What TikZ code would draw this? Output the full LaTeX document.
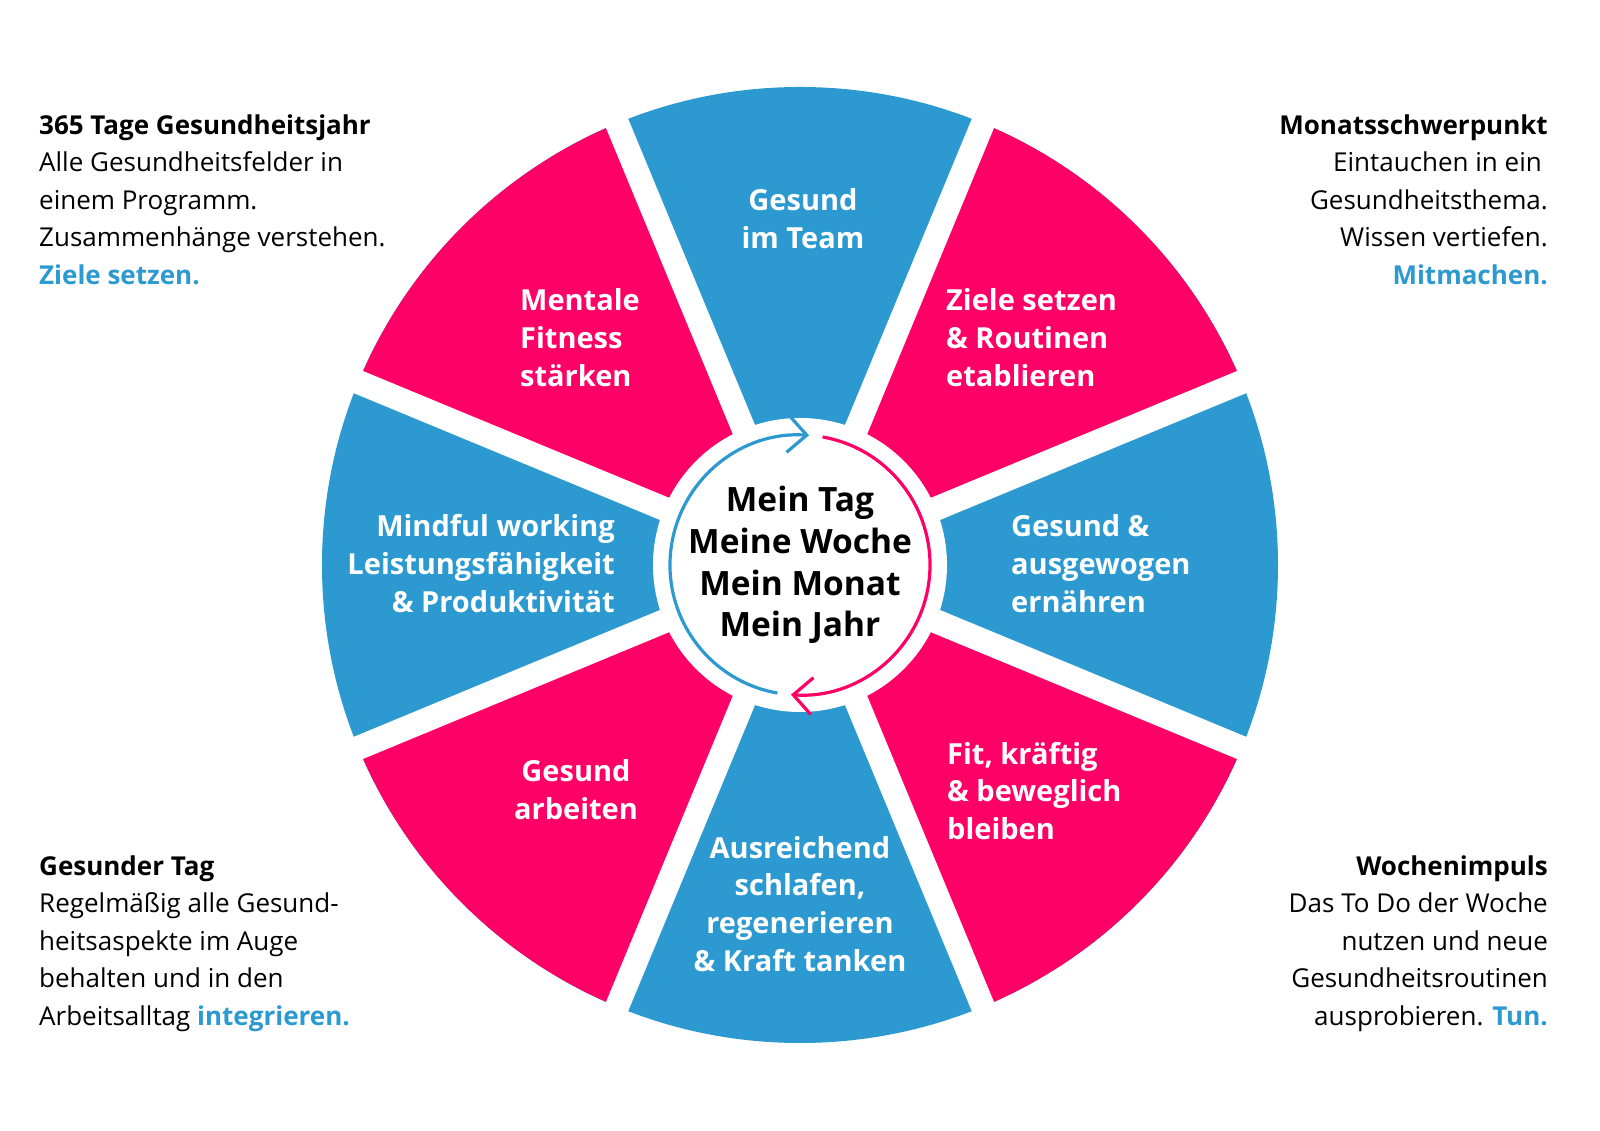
\documentclass[tikz,border=0pt]{standalone}
\usepackage{fontspec}
\setmainfont{Open Sans}
\usetikzlibrary{arrows.meta,calc}
\definecolor{wheelblue}{RGB}{44,154,209}
\definecolor{wheelpink}{RGB}{255,0,102}
\newcommand{\hiword}[1]{\textcolor{wheelblue}{\bfseries #1}}

\begin{document}
\begin{tikzpicture}[x=1pt, y=1pt,
	seg/.style={text=white, inner sep=0pt, font=\fontsize{29}{37.8}\selectfont\bfseries},
	info/.style={inner sep=0pt, font=\fontsize{26}{37.5}\selectfont},
	gap/.style={white, line width=24pt},
	cyc/.style={line width=3.2pt, -{Straight Barb[length=19pt, width=37pt, line width=3.2pt]}}]

    \fill[white] (-800,-566) rectangle (800,565);
    \coordinate (hub) at (0,0);

    % wheel: blue disc, pink sectors, white gaps and centre
    \fill[wheelblue] (hub) circle [radius=478];
    \foreach \a in {45,-45,-135,135}
        \fill[wheelpink] (hub) -- ($(hub)+(\a-22.5:478)$) arc [start angle=\a-22.5, end angle=\a+22.5, radius=478] -- cycle;
    \foreach \a in {22.5,67.5,112.5,157.5}
        \draw[gap] ($(hub)+(\a:480)$) -- ($(hub)+(\a+180:480)$);
    \fill[white] (hub) circle [radius=147];

    \draw[cyc, wheelblue] ($(hub)+(260:130)$) arc [start angle=260, end angle=86, radius=130];
    \draw[cyc, wheelpink] ($(hub)+(80:130)$) arc [start angle=80, end angle=-94, radius=130];

    % base anchor = baseline of the last line
    \node (Hub_Text) at (0,-71.8) [anchor=base, align=center, inner sep=0pt, font=\fontsize{33.5}{41.7}\selectfont\bfseries] {Mein Tag\\Meine Woche\\Mein Monat\\Mein Jahr};

    \node (Team) at (3,316.2) [seg, anchor=base, align=center] {Gesund\\im Team};
    \node (Goals) at (146,178.4) [seg, anchor=base west, align=left] {Ziele setzen\\\& Routinen\\etablieren};
    \node (Food) at (211,-47.6) [seg, anchor=base west, align=left] {Gesund \&\\ausgewogen\\ernähren};
    \node (Fit) at (147,-274.6) [seg, anchor=base west, align=left] {Fit, kräftig\\\& beweglich\\bleiben};
    \node (Sleep) at (0,-406.4) [seg, anchor=base, align=center] {Ausreichend\\schlafen,\\regenerieren\\\& Kraft tanken};
    \node (Work) at (-224,-254.8) [seg, anchor=base, align=center] {Gesund\\arbeiten};
    \node (Mindful) at (-185,-47.6) [seg, anchor=base east, align=right] {Mindful working\\Leistungsfähigkeit\\\& Produktivität};
    \node (Mental) at (-280,178.4) [seg, anchor=base west, align=left] {Mentale\\Fitness\\stärken};

    \node (Year) at (-761,280.7) [info, anchor=base west, align=left] {\textbf{365 Tage Gesundheitsjahr}\\Alle Gesundheitsfelder in\\einem Programm.\\Zusammenhänge verstehen.\\\hiword{Ziele setzen.}};
    \node (Month) at (748,280.7) [info, anchor=base east, align=right] {\textbf{Monatsschwerpunkt}\\Eintauchen in ein\hbox to 6pt{}\\Gesundheitsthema.\\Wissen vertiefen.\\\hiword{Mitmachen.}};
    \node (Day) at (-761,-460) [info, anchor=base west, align=left] {\textbf{Gesunder Tag}\\Regelmäßig alle Gesund-\\heitsaspekte im Auge\\behalten und in den\\Arbeitsalltag \hiword{integrieren.}};
    \node (Week) at (748,-460) [info, anchor=base east, align=right] {\textbf{Wochenimpuls}\\Das To Do der Woche\\nutzen und neue\\Gesundheitsroutinen\\ausprobieren. \hiword{Tun.}};

\end{tikzpicture}
\end{document}
